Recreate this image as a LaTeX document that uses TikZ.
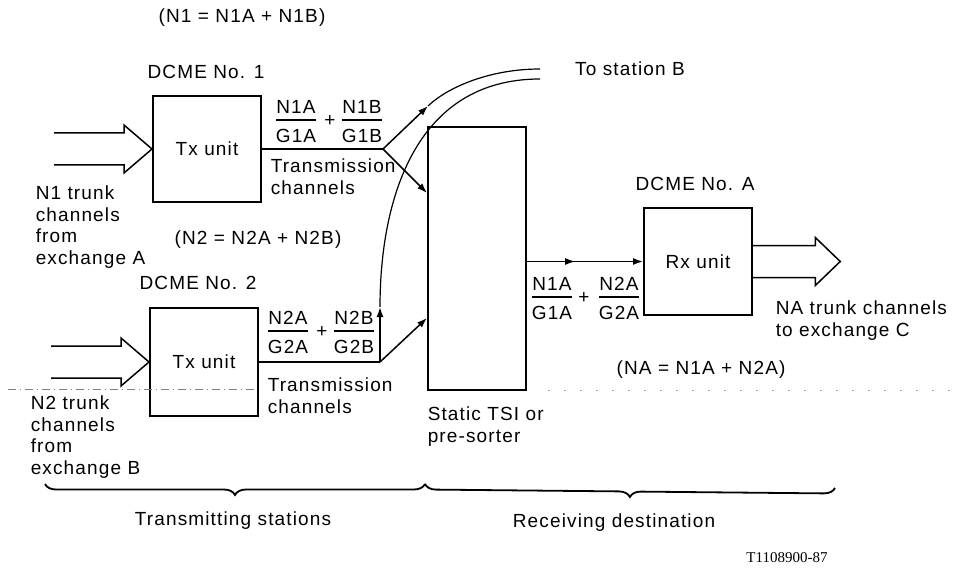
\documentclass[tikz,border=0pt]{standalone}
\usepackage{fontspec}
\setmainfont{Liberation Sans}[LetterSpace=6]
\newfontfamily\numfont{Liberation Serif}
\usetikzlibrary{arrows.meta,decorations.pathreplacing,decorations.markings,positioning,calc}
\setlength{\arrayrulewidth}{1.6pt}
\newcommand{\fr}[2]{\begin{tabular}{@{}c@{}}#1\\[-1pt]\hline\rule{0pt}{22pt}#2\end{tabular}}
\tikzset{
  unit/.style={draw, line width=2pt, minimum width=108pt, minimum height=106pt, inner sep=0},
  txt/.style={inner sep=0, align=left},
  tip/.style={-{Latex[length=10pt,width=7pt]}},
  midtip/.style={postaction={decorate}, decoration={markings,
      mark=at position 0.415 with {\arrow{Latex[length=10pt,width=7pt]}}}},
  fat/.pic={\draw (0,-16) -- (70,-16) -- (70,-24) -- (98,0) -- (70,24) -- (70,16) -- (0,16);},
  brc/.style={decorate, decoration={brace, mirror, amplitude=11pt}, line width=1.8pt}
}

\begin{document}
\begin{tikzpicture}[x=1pt, y=-1pt, line width=1.5pt, font=\fontsize{19}{21.5}\selectfont]
    \useasboundingbox (0,0) rectangle (958,572);
    \node[unit] (tx1) at (207,149) {Tx unit};
    \node[unit, minimum height=108pt] (tx2) at (204,362) {Tx unit};
    \node[unit, minimum width=98pt, minimum height=263pt] (tsi) at (477,258.5) {};
    \node[unit, minimum height=107pt] (rx) at (698,261.5) {Rx unit};

    \node[txt] (n1eq) at (242,18) {(N1 = N1A + N1B)};
    \node[txt] (dcme1) at (206,72) {DCME No. 1};
    \node[txt, anchor=north west] (from1) at (35,185) {N1 trunk\\channels\\from\\exchange A};
    \node[txt] (n2eq) at (258,240) {(N2 = N2A + N2B)};
    \node[txt] (dcme2) at (198,283) {DCME No. 2};
    \node[txt, anchor=north west] (from2) at (30,395) {N2 trunk\\channels\\from\\exchange B};
    \node[txt, anchor=north west] (tc1) at (270,158) {Transmission\\channels};
    \node[txt, anchor=north west] (tc2) at (267,377) {Transmission\\channels};
    \node[txt, anchor=north west] (tsilbl) at (427,406) {Static TSI or\\pre-sorter};
    \node[txt] (dcmea) at (695,184) {DCME No. A};
    \node[txt] (stb) at (630,69) {To station B};
    \node[txt, anchor=north west] (toc) at (775,300) {NA trunk channels\\to exchange C};
    \node[txt] (naeq) at (701,370) {(NA = N1A + N2A)};

    \node[txt] (f1a) at (296,124) {\fr{N1A}{G1A}};
    \node[txt] (p1) at (330,121) {+};
    \node[txt] (f1b) at (362,124) {\fr{N1B}{G1B}};
    \node[txt] (f2a) at (288,335) {\fr{N2A}{G2A}};
    \node[txt] (p2) at (322,332) {+};
    \node[txt] (f2b) at (354,335) {\fr{N2B}{G2B}};
    \node[txt] (fa1) at (552,301) {\fr{N1A}{G1A}};
    \node[txt] (pa) at (584,298) {+};
    \node[txt] (fa2) at (619,301) {\fr{N2A}{G2A}};

    \pic at ($(tx1.west)+(-98,0)$) {fat};
    \pic at ($(tx2.west)+(-98,0)$) {fat};
    \pic[xscale=0.89] at (rx.east) {fat};

    \coordinate (s1) at (383,149);
    \coordinate (s2) at (380,362);
    \coordinate (b1) at (428,106);
    \coordinate (b2) at (380,307);
    \coordinate (sb1) at (540,69);
    \coordinate (sb2) at (540,79);
    \coordinate (t1) at (tsi.west |- 0,193);
    \coordinate (t2) at (tsi.west |- 0,318);

    \draw (tx1.east) -- (s1);
    \draw[tip] (s1) -- (b1);
    \draw[line width=1.2pt] (b1) .. controls (448,87) and (490,69) .. (sb1);
    \draw[tip] (s1) -- (t1);
    \draw (tx2.east) -- (s2);
    \draw[tip] (s2) -- (b2);
    \draw[line width=1.2pt] (b2) .. controls (380,200) and (415,79) .. (sb2);
    \draw[tip] (s2) -- (t2);
    \draw[tip, midtip] (tsi.east |- rx.west) -- (rx.west);

    \draw[gray, thin, dash pattern=on 8pt off 4pt on 1pt off 4pt] (8,389) -- (258,389);
    \draw[gray!70, thin, dash pattern=on 2pt off 14pt] (548,390) -- (950,390);

    \draw[brc] (45,484) -- (425,484);
    \draw[brc] (425,484) -- (835,488);
    \node[txt] (tstat) at (233,521) {Transmitting stations};
    \node[txt] (rdest) at (614,523) {Receiving destination};
    \node[txt, font=\numfont\fontsize{15}{18}\selectfont] (code) at (787,558) {T1108900-87};
\end{tikzpicture}
\end{document}
